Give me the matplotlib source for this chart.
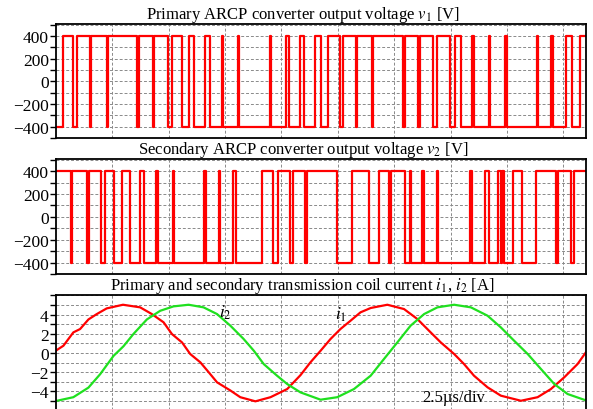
import numpy as np
import matplotlib.pyplot as plt
from matplotlib.ticker import MultipleLocator

plt.rcParams["font.family"] = ["Liberation Serif", "DejaVu Serif"]
plt.rcParams["mathtext.fontset"] = "stix"

# %%
# Values read off the scope shot, time in us (2.5 us per division)
t_end = 23.5

# primary converter: first level and switching instants
v1_start = -400
v1_edges = [0.30, 0.77, 0.95, 1.50, 1.57, 2.26, 2.32, 3.61, 3.68, 4.30, 4.37,
            4.96, 5.16, 5.60, 5.89, 6.15, 6.63, 6.82, 7.38, 7.43, 8.07, 8.13,
            9.49, 9.55, 10.20, 10.34, 10.82, 10.99, 11.48, 11.78, 12.07, 12.58,
            12.74, 13.29, 13.36, 14.00, 14.07, 15.40, 15.49, 16.07, 16.15,
            16.73, 16.91, 17.48, 17.69, 17.95, 18.43, 18.54, 19.19, 19.24,
            19.93, 19.99, 21.32, 21.37, 21.95, 22.06, 22.64, 22.87, 23.26]

# secondary converter
v2_start = 400
v2_edges = [0.67, 0.73, 1.37, 1.46, 1.99, 2.19, 2.60, 2.94, 3.27, 3.72, 3.91,
            4.45, 4.54, 5.18, 5.24, 6.59, 6.68, 7.22, 7.30, 7.84, 8.01, 9.15,
            9.64, 9.86, 10.40, 10.52, 11.07, 11.14, 12.48, 13.14, 13.88, 14.33,
            14.77, 14.84, 15.47, 15.69, 15.75, 16.24, 16.31, 16.89, 16.95,
            18.35, 18.43, 19.02, 19.21, 19.61, 19.73, 19.78, 19.88, 20.28,
            20.65, 21.31, 22.17, 22.27, 22.84, 22.98]

# coil currents [A]
i1_t = [0.00, 0.34, 0.78, 1.08, 1.45, 1.82, 2.26, 2.98, 3.74, 4.26, 4.78, 5.15,
        5.60, 5.96, 6.41, 6.78, 7.15, 7.74, 8.18, 8.85, 9.52, 10.26, 10.85,
        11.29, 11.74, 12.18, 12.62, 13.07, 13.51, 13.96, 14.70, 15.44, 16.03,
        16.62, 17.07, 17.66, 18.10, 18.54, 19.14, 19.73, 20.62, 21.36, 21.95,
        22.54, 23.13, 23.55]
i1 = [0.24, 0.76, 2.15, 2.5, 3.5, 4.06, 4.65, 5.03, 4.76, 4.06, 3.2, 1.98,
      1.1, -0.1, -0.97, -2.0, -3.05, -3.9, -4.6, -5.03, -4.6, -3.75, -2.3,
      -0.97, 0.24, 1.46, 2.5, 3.37, 4.24, 4.69, 5.03, 4.58, 3.54, 2.15, 1.1,
      -0.1, -1.15, -2.36, -3.57, -4.44, -4.97, -4.6, -3.75, -2.53, -1.15, 0.24]
i2_t = [0.00, 0.78, 1.45, 1.97, 2.56, 3.00, 3.45, 4.04, 4.63, 5.22, 5.89, 6.55,
        7.15, 7.74, 8.33, 8.78, 9.22, 9.81, 10.26, 10.85, 11.74, 12.48, 13.22,
        13.96, 14.55, 15.14, 15.73, 16.33, 16.92, 17.66, 18.40, 19.14, 19.73,
        20.32, 20.92, 21.51, 22.10, 22.69, 23.55]
i2 = [-5.0, -4.6, -3.6, -2.2, -0.3, 0.7, 2.0, 3.5, 4.4, 4.86, 5.03, 4.76,
      4.06, 2.85, 1.46, 0.24, -1.15, -2.36, -3.23, -4.1, -4.86, -4.6, -3.75,
      -2.36, -0.62, 1.1, 2.85, 4.06, 4.76, 5.03, 4.76, 3.89, 2.67, 1.28, -0.1,
      -1.67, -3.23, -4.27, -4.97]


def square(start, edges):
    # step waveform that toggles sign at every edge
    t = np.concatenate(([0.0], edges, [t_end]))
    v = start * (-1.0) ** np.arange(len(edges) + 1)
    v = np.append(v, v[-1])
    return t, v


def style(ax, ylim, major, minor):
    ax.set_xlim(0, t_end)
    ax.set_ylim(*ylim)
    ax.set_xticks(np.arange(2.5, t_end, 2.5))
    ax.yaxis.set_major_locator(MultipleLocator(major))
    ax.yaxis.set_minor_locator(MultipleLocator(minor))
    ax.grid(which="both", axis="both", color="#8a8a8a", linestyle=(0, (3, 2)),
            linewidth=0.7)
    ax.tick_params(axis="x", length=0, labelbottom=False)
    ax.tick_params(axis="y", which="both", direction="out", length=4,
                   width=1.0, labelsize=12.5, pad=1)
    for s in ax.spines.values():
        s.set_linewidth(1.3)
    ax.set_axisbelow(True)


fig = plt.figure(figsize=(5.93, 4.10), dpi=100)
ax1 = fig.add_axes([0.094, 0.661, 0.894, 0.278])
ax2 = fig.add_axes([0.094, 0.329, 0.894, 0.2805])
ax3 = fig.add_axes([0.094, -0.004, 0.894, 0.281])

# %%
t, v = square(v1_start, v1_edges)
ax1.plot(t, v, color="red", lw=1.6, drawstyle="steps-post")
style(ax1, (-500, 505), 200, 100)
ax1.set_yticks([-400, -200, 0, 200, 400])
ax1.set_title(r"Primary ARCP converter output voltage $v_1$ [V]",
              fontsize=12, x=0.466, pad=3)

t, v = square(v2_start, v2_edges)
ax2.plot(t, v, color="red", lw=1.6, drawstyle="steps-post")
style(ax2, (-500, 505), 200, 100)
ax2.set_yticks([-400, -200, 0, 200, 400])
ax2.set_title(r"Secondary ARCP converter output voltage $v_2$ [V]",
              fontsize=12, x=0.466, pad=3)

# %%
ax3.plot(i1_t, i1, color="red", lw=1.6)
ax3.plot(i2_t, i2, color="#1fe01f", lw=1.6)
style(ax3, (-6, 6), 2, 1)
ax3.set_yticks([-4, -2, 0, 2, 4])
ax3.set_title(r"Primary and secondary transmission coil current $i_1$, $i_2$ [A]",
              fontsize=12, x=0.466, pad=3)
ax3.text(7.52, 4.3, r"$i_2$", fontsize=12.5, ha="center", va="center")
ax3.text(12.63, 4.06, r"$i_1$", fontsize=12.5, ha="center", va="center")
ax3.text(17.65, -4.6, "2.5\u00b5s/div", fontsize=12, ha="center", va="center")

fig.savefig("out.png", dpi=100)
